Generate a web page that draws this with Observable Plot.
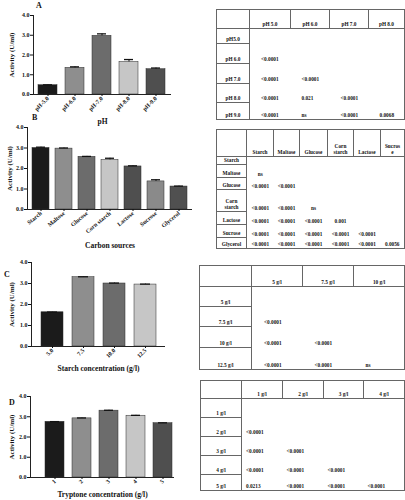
<!DOCTYPE html>
<html><head><meta charset="utf-8">
<script src="https://cdn.jsdelivr.net/npm/d3@7"></script>
<script src="https://cdn.jsdelivr.net/npm/@observablehq/plot@0.6"></script>
<style>
html,body{margin:0;padding:0;background:#fff;}
#root{position:relative;width:405px;height:500px;overflow:hidden;background:#fff;font-family:'Liberation Serif',serif;}
.panel{position:absolute;left:0;}
.letter{position:absolute;font:bold 8px 'Liberation Serif',serif;color:#111;}
svg [aria-label="y-axis label"] text{font-size:7px;}
svg [aria-label="x-axis label"] text{font-size:7.5px;}
table.tbl{position:absolute;border-collapse:collapse;table-layout:fixed;font:bold 5.3px 'Liberation Serif',serif;color:#111;border:1px solid #666;}
table.tbl th,table.tbl td{padding:0 0 1px 0;vertical-align:bottom;white-space:pre-line;line-height:1.15;overflow:hidden;}
table.tbl thead th{border:1px solid #666;text-align:center;}
table.tbl tbody th{border-right:1px solid #666;border-bottom:1px solid #666;text-align:center;font-weight:bold;}
table.tbl tbody td{text-align:left;}
</style>
</head><body>
<div id="root"></div>
<script>
// ---------- data ----------
const catsA = ["pH-5.0","pH-6.0","pH-7.0","pH-8.0","pH-9.0"];
const valsA = [0.47, 1.35, 2.97, 1.65, 1.28];
const errsA = [0.02, 0.05, 0.10, 0.12, 0.06];

const catsB = ["Starch","Maltose","Glucose","Corn starch","Lactose","Sucrose","Glycerol"];
const valsB = [3.00, 2.97, 2.57, 2.42, 2.10, 1.37, 1.12];
const errsB = [0.04, 0.03, 0.02, 0.08, 0.03, 0.08, 0.02];

const catsC = ["5.0","7.5","10.0","12.5"];
const valsC = [1.63, 3.30, 3.00, 2.95];
const errsC = [0.01, 0.02, 0.02, 0.02];

const catsD = ["1","2","3","4","5"];
const valsD = [2.75, 2.92, 3.30, 3.05, 2.68];
const errsD = [0.01, 0.02, 0.02, 0.02, 0.02];

const yTicks = [0, 1, 2, 3, 4];

const colsA = ["pH 5.0","pH 6.0","pH 7.0","pH 8.0"];
const rowsA = ["pH5.0","pH 6.0","pH 7.0","pH 8.0","pH 9.0"];
const pA = [
  [],
  ["<0.0001"],
  ["<0.0001","<0.0001"],
  ["<0.0001","0.021","<0.0001"],
  ["<0.0001","ns","<0.0001","0.0068"]
];

const colsB = ["Starch","Maltose","Glucose","Corn\nstarch","Lactose","Sucros\ne"];
const rowsB = ["Starch","Maltose","Glucose","Corn\nstarch","Lactose","Sucrose","Glycerol"];
const pB = [
  [],
  ["ns"],
  ["<0.0001","<0.0001"],
  ["<0.0001","<0.0001","ns"],
  ["<0.0001","<0.0001","<0.0001","0.001"],
  ["<0.0001","<0.0001","<0.0001","<0.0001","<0.0001"],
  ["<0.0001","<0.0001","<0.0001","<0.0001","<0.0001","0.0056"]
];

const colsC = ["5 g/l","7.5 g/l","10 g/l"];
const rowsC = ["5 g/l","7.5 g/l","10 g/l","12.5 g/l"];
const pC = [
  [],
  ["<0.0001"],
  ["<0.0001","<0.0001"],
  ["<0.0001","<0.0001","ns"]
];

const colsD = ["1 g/l","2 g/l","3 g/l","4 g/l"];
const rowsD = ["1 g/l","2 g/l","3 g/l","4 g/l","5 g/l"];
const pD = [
  [],
  ["<0.0001"],
  ["<0.0001","<0.0001"],
  ["<0.0001","<0.0001","<0.0001"],
  ["0.0213","<0.0001","<0.0001","<0.0001"]
];

// ---------- styles ----------
const paletteA = ["#1b1b1b","#8e8e8e","#6c6c6c","#c6c6c6","#4f4f4f"];
const paletteB = ["#1b1b1b","#8e8e8e","#6c6c6c","#c6c6c6","#4f4f4f","#8a8a8a","#505050"];
const paletteC = ["#1b1b1b","#8e8e8e","#6c6c6c","#c6c6c6"];
const paletteD = ["#1b1b1b","#8e8e8e","#6c6c6c","#c6c6c6","#4f4f4f"];

const root = document.getElementById("root");

function barPanel(cfg) {
  const data = cfg.cats.map((c, i) => ({c, v: cfg.vals[i], e: cfg.errs[i], col: cfg.palette[i]}));
  const chart = Plot.plot({
    width: 200,
    height: cfg.height,
    marginLeft: cfg.left,
    marginRight: 200 - cfg.right,
    marginTop: cfg.marginTop,
    marginBottom: cfg.marginBottom,
    x: {domain: cfg.cats, paddingInner: cfg.pi, paddingOuter: cfg.po, align: cfg.align, label: null},
    y: {domain: [0, 4], label: null},
    color: {type: "identity"},
    style: {fontFamily: "'Liberation Serif', serif", fontWeight: "bold", fontSize: "6px", background: "transparent", color: "#111"},
    marks: [
      Plot.barY(data, {x: "c", y: "v", fill: "col", stroke: "#2a2a2a", strokeWidth: 0.5}),
      Plot.ruleX(data, {x: "c", y1: "v", y2: d => d.v + d.e, stroke: "#111", strokeWidth: 1}),
      Plot.tickY(data, {x: "c", y: d => d.v + d.e, stroke: "#111", strokeWidth: 1.3, insetLeft: cfg.cap, insetRight: cfg.cap}),
      Plot.ruleY([0], {stroke: "#222", strokeWidth: 1}),
      Plot.frame({anchor: "left", stroke: "#222", strokeWidth: 1}),
      Plot.axisY({ticks: yTicks, tickSize: 3, tickPadding: 1, fontSize: 6,
        label: "Activity (U/ml)", labelArrow: false, labelAnchor: "center", labelOffset: cfg.yLabelOffset}),
      Plot.axisX({tickRotate: cfg.rotate, tickSize: 2, tickPadding: 1, fontSize: 6,
        label: cfg.xlabel, labelArrow: false, labelAnchor: "center", labelOffset: cfg.xLabelOffset})
    ]
  });
  const wrap = document.createElement("div");
  wrap.className = "panel";
  wrap.style.top = cfg.top + "px";
  wrap.appendChild(chart);
  root.appendChild(wrap);
}

function letter(t, x, y) {
  const d = document.createElement("div");
  d.className = "letter";
  d.textContent = t;
  d.style.left = x + "px";
  d.style.top = y + "px";
  root.appendChild(d);
}

function table(cfg) {
  const t = document.createElement("table");
  t.className = "tbl";
  t.style.left = cfg.left + "px";
  t.style.top = cfg.top + "px";
  const cg = document.createElement("colgroup");
  cfg.widths.forEach(w => { const c = document.createElement("col"); c.style.width = w + "px"; cg.appendChild(c); });
  t.appendChild(cg);
  const thead = document.createElement("thead");
  const hr = document.createElement("tr");
  hr.style.height = cfg.headH + "px";
  ["", ...cfg.cols].forEach(h => { const th = document.createElement("th"); th.textContent = h; hr.appendChild(th); });
  thead.appendChild(hr);
  t.appendChild(thead);
  const tb = document.createElement("tbody");
  cfg.rows.forEach((r, i) => {
    const tr = document.createElement("tr");
    tr.style.height = cfg.rowH[i] + "px";
    const th = document.createElement("th");
    th.textContent = r;
    tr.appendChild(th);
    cfg.cols.forEach((c, j) => {
      const td = document.createElement("td");
      td.textContent = cfg.p[i][j] || "";
      td.style.paddingLeft = cfg.pad + "px";
      if (cfg.center) td.style.textAlign = "center";
      tr.appendChild(td);
    });
    tb.appendChild(tr);
  });
  t.appendChild(tb);
  root.appendChild(t);
}

// ---------- panels ----------
barPanel({cats: catsA, vals: valsA, errs: errsA, palette: paletteA, top: 0, height: 128,
  left: 33, right: 171, marginTop: 15, marginBottom: 34, pi: 0.29, po: 0.15, align: 0.5, cap: 5,
  rotate: -45, xlabel: "pH", xLabelOffset: 29, yLabelOffset: 24});
barPanel({cats: catsB, vals: valsB, errs: errsB, palette: paletteB, top: 112, height: 140,
  left: 27, right: 192, marginTop: 15, marginBottom: 43, pi: 0.26, po: 0.2, align: 0.5, cap: 4,
  rotate: -40, xlabel: "Carbon sources", xLabelOffset: 38, yLabelOffset: 20});
barPanel({cats: catsC, vals: valsC, errs: errsC, palette: paletteC, top: 255, height: 120,
  left: 31, right: 165, marginTop: 7, marginBottom: 29, pi: 0.29, po: 0.3, align: 0.53, cap: 6,
  rotate: -45, xlabel: "Starch concentration (g/l)", xLabelOffset: 24, yLabelOffset: 22});
barPanel({cats: catsD, vals: valsD, errs: errsD, palette: paletteD, top: 385, height: 115,
  left: 30, right: 174, marginTop: 11, marginBottom: 23, pi: 0.28, po: 0.235, align: 0.9, cap: 5,
  rotate: -45, xlabel: "Tryptone concentration (g/l)", xLabelOffset: 19, yLabelOffset: 21});

letter("A", 36, 1);
letter("B", 32, 113);
letter("C", 4, 270);
letter("D", 9, 398);

table({left: 216, top: 9, widths: [33,41,39,39,36], headH: 19, rowH: [15,20,20,19,17],
  cols: colsA, rows: rowsA, p: pA, pad: 11});
table({left: 216, top: 129, widths: [30,27,26,28,26,27,24], headH: 27, rowH: [8,13,12,22,13,13,11],
  cols: colsB, rows: rowsB, p: pB, pad: 0, center: true});
table({left: 199, top: 265, widths: [52,51,51,51], headH: 21, rowH: [20,20,21,22],
  cols: colsC, rows: rowsC, p: pC, pad: 12});
table({left: 200, top: 380, widths: [41,41,41,40,41], headH: 18, rowH: [19,19,19,19,16],
  cols: colsD, rows: rowsD, p: pD, pad: 4});
</script>
</body></html>
